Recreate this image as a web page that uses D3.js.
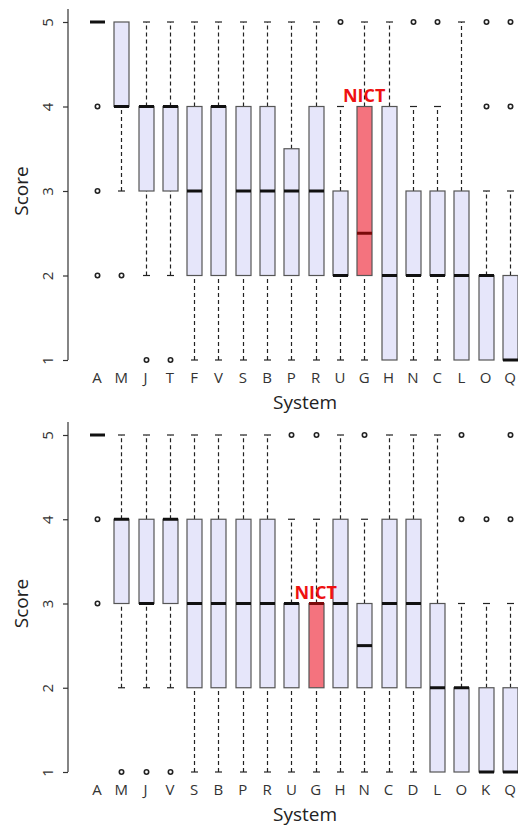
<!DOCTYPE html>
<html>
<head>
<meta charset="utf-8">
<script src="https://cdn.jsdelivr.net/npm/d3@7"></script>
<style>
  body { margin: 0; background: #fff; }
  svg { display: block; font-family: 'Open Sans', 'DejaVu Sans', sans-serif; }
</style>
</head>
<body>
<div class="canvas"></div>
<script>
// top panel data
const systemsTop = ['A', 'M', 'J', 'T', 'F', 'V', 'S', 'B', 'P', 'R', 'U', 'G', 'H', 'N', 'C', 'L', 'O', 'Q'];
const lowTop = [5, 3, 2, 2, 1, 1, 1, 1, 1, 1, 1, 1, 1, 1, 1, 1, 1, 1];
const q1Top = [5, 4, 3, 3, 2, 2, 2, 2, 2, 2, 2, 2, 1, 2, 2, 1, 1, 1];
const medianTop = [5, 4, 4, 4, 3, 4, 3, 3, 3, 3, 2, 2.5, 2, 2, 2, 2, 2, 1];
const q3Top = [5, 5, 4, 4, 4, 4, 4, 4, 3.5, 4, 3, 4, 4, 3, 3, 3, 2, 2];
const highTop = [5, 5, 5, 5, 5, 5, 5, 5, 5, 5, 4, 5, 5, 4, 4, 5, 3, 3];
const outliersTop = [[4, 3, 2], [2], [1], [1], [], [], [], [], [], [], [5], [], [], [5], [5], [], [4, 5], [4, 5]];

// bottom panel data
const systemsBottom = ['A', 'M', 'J', 'V', 'S', 'B', 'P', 'R', 'U', 'G', 'H', 'N', 'C', 'D', 'L', 'O', 'K', 'Q'];
const lowBottom = [5, 2, 2, 2, 1, 1, 1, 1, 1, 1, 1, 1, 1, 1, 1, 1, 1, 1];
const q1Bottom = [5, 3, 3, 3, 2, 2, 2, 2, 2, 2, 2, 2, 2, 2, 1, 1, 1, 1];
const medianBottom = [5, 4, 3, 4, 3, 3, 3, 3, 3, 3, 3, 2.5, 3, 3, 2, 2, 1, 1];
const q3Bottom = [5, 4, 4, 4, 4, 4, 4, 4, 3, 3, 4, 3, 4, 4, 3, 2, 2, 2];
const highBottom = [5, 5, 5, 5, 5, 5, 5, 5, 4, 4, 5, 4, 5, 5, 5, 3, 3, 3];
const outliersBottom = [[4, 3], [1], [1], [1], [], [], [], [], [5], [5], [], [5], [], [], [], [4, 5], [4], [4, 5]];

const scoreTicks = [1, 2, 3, 4, 5];
const highlight = 'G';
const highlightLabel = 'NICT';

const width = 518;
const height = 826;

const svg = d3
  .select('.canvas')
  .append('svg')
  .attr('width', width)
  .attr('height', height);

const boxWidth = 15;
const capWidth = 7;

const drawPanel = (opts) => {
  const { systems, low, q1, median, q3, high, outliers, yTop, yBottom } = opts;

  const x = d3.scalePoint().domain(systems).range([97, 510]);
  const y = d3.scaleLinear().domain([1, 5]).range([yBottom, yTop]);
  // snap the centre of each box to a pixel so dashed whiskers stay crisp
  const xc = (name) => Math.round(x(name)) + 0.5;

  const graph = svg.append('g');

  // y axis
  const yAxis = d3.axisLeft(y).tickValues(scoreTicks).tickSize(5).tickFormat(d3.format('d'));
  const axisG = graph.append('g').attr('transform', 'translate(68,0)').call(yAxis);
  axisG.select('.domain').remove();
  axisG.selectAll('.tick line').attr('stroke', '#333').attr('stroke-width', 1.2);
  axisG
    .selectAll('.tick text')
    .attr('x', null)
    .attr('dy', null)
    .attr('text-anchor', 'middle')
    .attr('transform', 'translate(-15,0) rotate(-90)')
    .attr('font-size', 15)
    .attr('font-family', "'Open Sans', sans-serif")
    .attr('fill', '#333');
  axisG
    .append('line')
    .attr('x1', 0)
    .attr('x2', 0)
    .attr('y1', yTop - 13)
    .attr('y2', yBottom)
    .attr('stroke', '#333')
    .attr('stroke-width', 1.2);

  // axis titles
  graph
    .append('text')
    .attr('transform', `translate(28, ${(yTop + yBottom) / 2}) rotate(-90)`)
    .attr('text-anchor', 'middle')
    .attr('font-size', 19)
    .attr('fill', '#222')
    .text('Score');

  graph
    .append('text')
    .attr('x', 305)
    .attr('y', yBottom + 49)
    .attr('text-anchor', 'middle')
    .attr('font-size', 19)
    .attr('fill', '#222')
    .text('System');

  // category labels
  graph
    .selectAll('text.cat')
    .data(systems)
    .enter()
    .append('text')
    .attr('class', 'cat')
    .attr('x', (d) => x(d))
    .attr('y', yBottom + 23)
    .attr('text-anchor', 'middle')
    .attr('font-size', 15)
    .attr('fill', '#333')
    .text((d) => d);

  const rows = systems.map((name, i) => ({
    name,
    low: low[i],
    q1: q1[i],
    median: median[i],
    q3: q3[i],
    high: high[i],
    outliers: outliers[i],
  }));

  const boxes = graph
    .selectAll('g.box')
    .data(rows)
    .enter()
    .append('g')
    .attr('class', 'box')
    .attr('transform', (d) => `translate(${xc(d.name)},0)`);

  // whiskers
  boxes.each(function (d) {
    const g = d3.select(this);
    const parts = [];
    if (d.high > d.q3) parts.push([d.q3, d.high]);
    if (d.low < d.q1) parts.push([d.low, d.q1]);
    parts.forEach(([a, b]) => {
      g.append('line')
        .attr('x1', 0)
        .attr('x2', 0)
        .attr('y1', y(a))
        .attr('y2', y(b))
        .attr('stroke', '#222')
        .attr('stroke-width', 1.2)
        .attr('stroke-dasharray', '4,3');
    });
    [d.high > d.q3 ? d.high : null, d.low < d.q1 ? d.low : null]
      .filter((v) => v !== null)
      .forEach((v) => {
        g.append('line')
          .attr('x1', -capWidth / 2)
          .attr('x2', capWidth / 2)
          .attr('y1', y(v))
          .attr('y2', y(v))
          .attr('stroke', '#222')
          .attr('stroke-width', 1.2);
      });
  });

  // box body
  boxes
    .filter((d) => d.q3 > d.q1)
    .append('rect')
    .attr('x', -boxWidth / 2)
    .attr('width', boxWidth)
    .attr('y', (d) => y(d.q3))
    .attr('height', (d) => y(d.q1) - y(d.q3))
    .attr('fill', (d) => (d.name === highlight ? '#f4737e' : '#e6e6fa'))
    .attr('stroke', '#555')
    .attr('stroke-width', 1.2);

  // median
  boxes
    .append('line')
    .attr('x1', -boxWidth / 2)
    .attr('x2', boxWidth / 2)
    .attr('y1', (d) => y(d.median))
    .attr('y2', (d) => y(d.median))
    .attr('stroke', (d) => (d.name === highlight ? '#7a0a0a' : '#111'))
    .attr('stroke-width', 3);

  // outliers
  boxes
    .selectAll('circle')
    .data((d) => d.outliers)
    .enter()
    .append('circle')
    .attr('cx', 0)
    .attr('cy', (v) => y(v))
    .attr('r', 2.2)
    .attr('fill', '#fff')
    .attr('stroke', '#222')
    .attr('stroke-width', 1.6);

  // highlight label, just above the highlighted box
  const hi = rows.find((d) => d.name === highlight);
  graph
    .append('text')
    .attr('x', x(highlight))
    .attr('y', y(hi.q3) - 5)
    .attr('text-anchor', 'middle')
    .attr('font-size', 18)
    .attr('font-weight', 'bold')
    .attr('fill', '#ee1111')
    .text(highlightLabel);
};

drawPanel({
  systems: systemsTop,
  low: lowTop,
  q1: q1Top,
  median: medianTop,
  q3: q3Top,
  high: highTop,
  outliers: outliersTop,
  yTop: 22,
  yBottom: 360,
});

drawPanel({
  systems: systemsBottom,
  low: lowBottom,
  q1: q1Bottom,
  median: medianBottom,
  q3: q3Bottom,
  high: highBottom,
  outliers: outliersBottom,
  yTop: 435,
  yBottom: 772,
});
</script>
</body>
</html>
